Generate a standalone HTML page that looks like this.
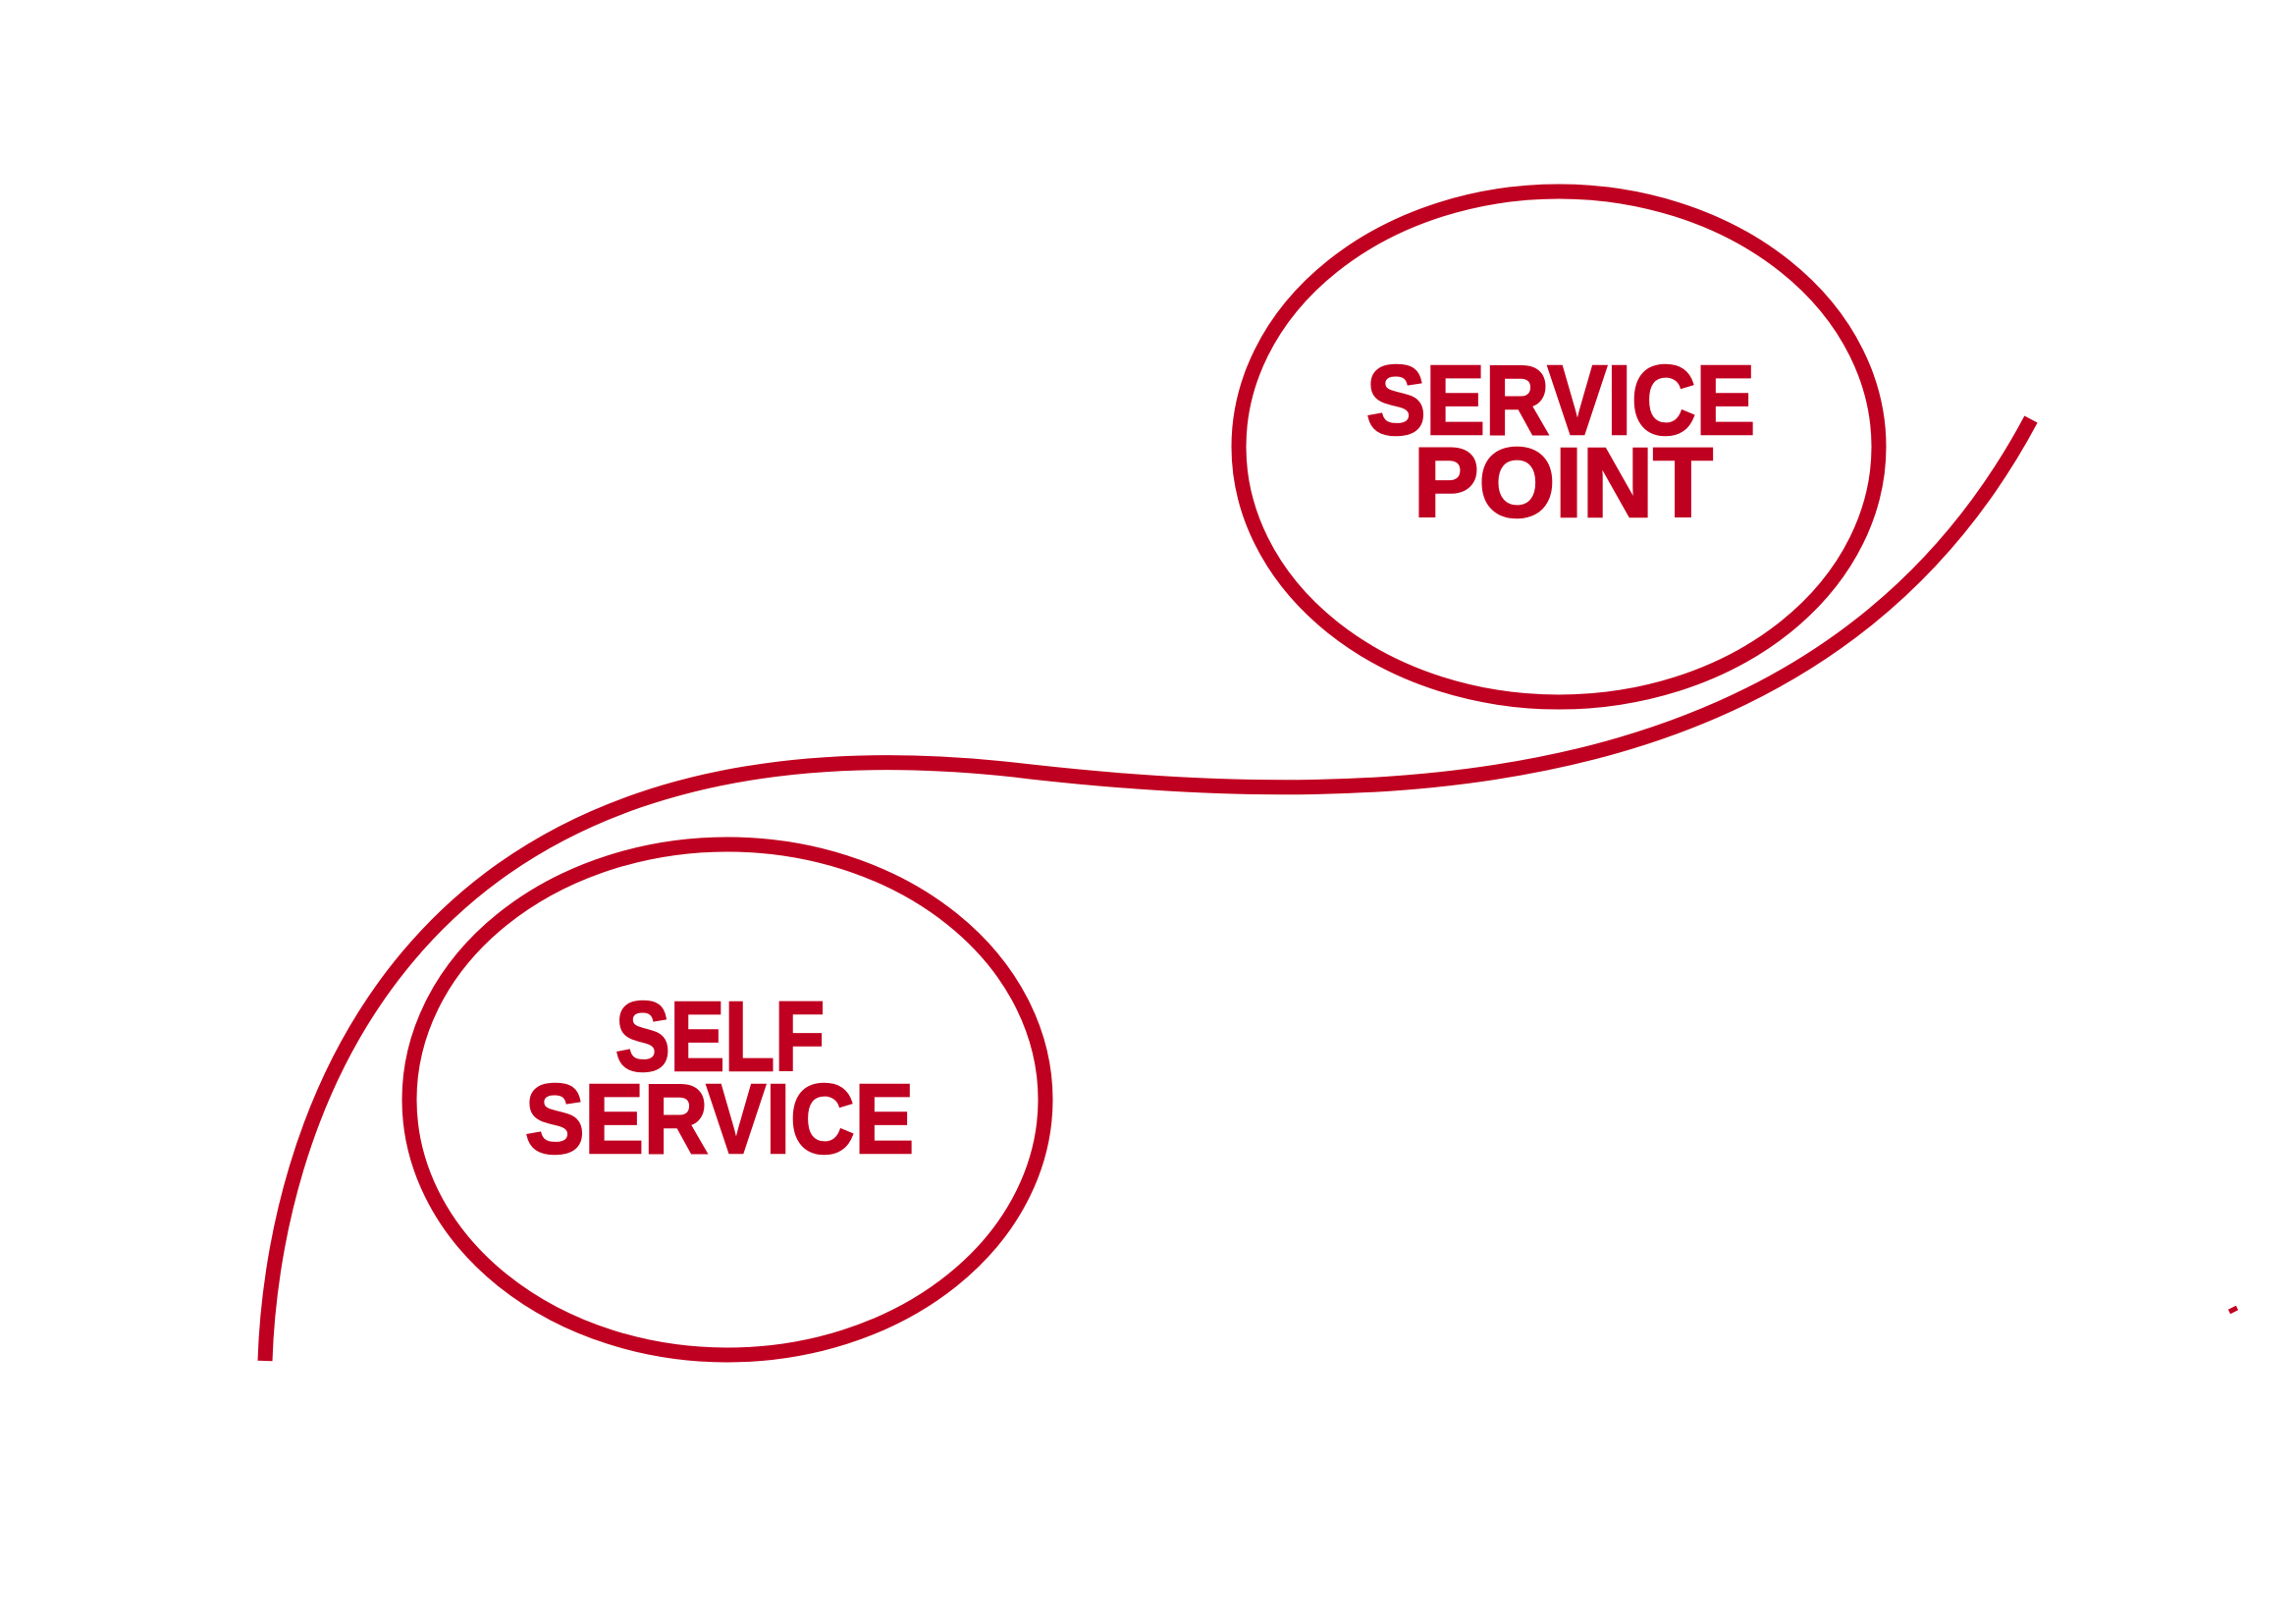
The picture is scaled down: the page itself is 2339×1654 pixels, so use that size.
<!DOCTYPE html>
<html><head><meta charset="utf-8"><style>
html,body{margin:0;padding:0;background:#fff;}
svg{display:block;}
text{font-family:"Liberation Sans",sans-serif;font-weight:bold;fill:#c00020;stroke:#c00020;stroke-width:2.5;}
</style></head><body>
<svg width="2339" height="1654" viewBox="0 0 2339 1654" xmlns="http://www.w3.org/2000/svg">
<g fill="none" stroke="#c00020" stroke-width="15">
<ellipse cx="1588" cy="455" rx="326" ry="260"/>
<ellipse cx="741" cy="1120" rx="324" ry="260"/>
<path d="M270,1386 C277,1170 390,705 1050,786 C1425,828 1865,810 2069,427"/>
</g>
<line x1="2271" y1="1336" x2="2279" y2="1332" stroke="#c00020" stroke-width="5"/>
<g font-size="100">
<text x="1392" y="442" textLength="396" lengthAdjust="spacingAndGlyphs">SERVICE</text>
<text x="1440" y="526" textLength="305" lengthAdjust="spacingAndGlyphs">POINT</text>
<text x="627" y="1090" textLength="213" lengthAdjust="spacingAndGlyphs">SELF</text>
<text x="535" y="1174" textLength="396" lengthAdjust="spacingAndGlyphs">SERVICE</text>
</g>
</svg>
</body></html>
